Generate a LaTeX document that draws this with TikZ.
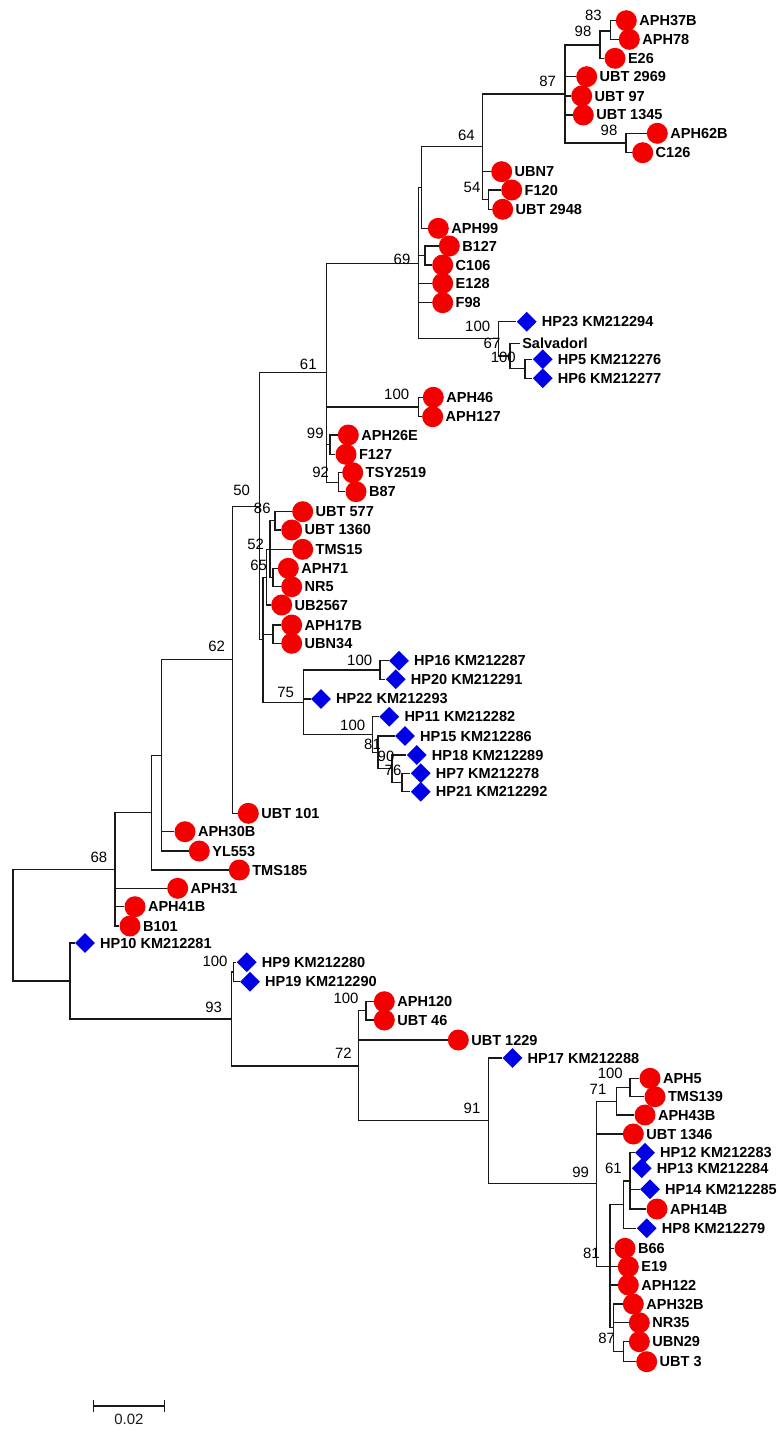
\documentclass[tikz,border=0pt]{standalone}
\usepackage{fontspec}
\setmainfont{Liberation Sans}
\usetikzlibrary{arrows.meta, shapes.geometric}
\definecolor{isored}{RGB}{245,0,0}
\definecolor{refblue}{RGB}{0,0,230}

\begin{document}
\begin{tikzpicture}[x=0.75pt, y=-0.75pt,
    dot/.style={circle, fill=isored, inner sep=0pt, minimum size=15.75pt},
    dia/.style={diamond, fill=refblue, inner sep=0pt, minimum size=15pt},
    lab/.style={font=\fontsize{10.9}{12}\selectfont\bfseries, inner sep=1.5pt},
    bs/.style={font=\fontsize{11.2}{12}\selectfont, inner sep=0pt},
    branch/.style={line width=0.8pt, black!90}
  ]
  \useasboundingbox (0,0) rectangle (780,1434);

  % isolates
  \foreach \n/\x/\y/\t in {aph37b/626.3/20.7/APH37B, aph78/629.3/39.3/APH78,
      e26/615/58.3/E26, ubt2969/586.7/76.7/UBT 2969, ubt97/581.7/96/UBT 97,
      ubt1345/583.3/115/UBT 1345, aph62b/657.3/133.3/APH62B, c126/642.7/152.7/C126,
      ubn7/501.7/171.7/UBN7, f120/511.7/190/F120, ubt2948/502.7/209.3/UBT 2948,
      aph99/438.3/228.3/APH99, b127/449.3/246/B127, c106/442.7/265/C106,
      e128/442.7/283.3/E128, f98/442.7/302.7/F98, aph46/433.3/397.3/APH46,
      aph127/432.7/416.7/APH127, aph26e/348.3/435/APH26E, f127/346/454.3/F127,
      tsy2519/352.7/472.7/TSY2519, b87/356/491.7/B87, ubt577/302.7/511.7/UBT 577,
      ubt1360/291.7/530/UBT 1360, tms15/302.7/549.3/TMS15, aph71/288.3/568.3/APH71,
      nr5/291.7/586.7/NR5, ub2567/281.7/605/UB2567, aph17b/291.7/625/APH17B,
      ubn34/291.7/643.3/UBN34, ubt101/248.3/813.3/UBT 101, aph30b/185/831.7/APH30B,
      yl553/199.3/851/YL553, tms185/239.3/870/TMS185, aph31/177.7/888.3/APH31,
      aph41b/135/906.7/APH41B, b101/130/926/B101, aph120/384.3/1001.7/APH120,
      ubt46/384.3/1020/UBT 46, ubt1229/458.3/1040/UBT 1229, aph5/650/1078.3/APH5,
      tms139/655/1096.7/TMS139, aph43b/645/1115/APH43B, ubt1346/633.3/1134/UBT 1346,
      aph14b/657/1209/APH14B, b66/625/1248.3/B66, e19/628.3/1266.7/E19,
      aph122/628.3/1285/APH122, aph32b/633.3/1304/APH32B, nr35/639.3/1322.7/NR35,
      ubn29/639.3/1341.7/UBN29, ubt3/646.7/1361.7/UBT 3}
    \node[dot, label={[lab]right:\t}] (\n) at (\x,\y) {};

  % reference sequences
  \foreach \n/\x/\y/\t in {hp23/526.7/321.7/HP23 KM212294, hp5/542.7/359.3/HP5 KM212276,
      hp6/542.7/378.3/HP6 KM212277, hp16/399/660.7/HP16 KM212287,
      hp20/395.7/679.3/HP20 KM212291, hp22/321/699/HP22 KM212293,
      hp11/389.3/716.7/HP11 KM212282, hp15/405/736/HP15 KM212286,
      hp18/416.7/755/HP18 KM212289, hp7/420.7/773.3/HP7 KM212278,
      hp21/420.7/791.7/HP21 KM212292, hp10/85/943/HP10 KM212281,
      hp9/246.7/962.3/HP9 KM212280, hp19/250/981.7/HP19 KM212290,
      hp17/512.5/1058/HP17 KM212288, hp12/645/1152.7/HP12 KM212283,
      hp13/641.7/1168.3/HP13 KM212284, hp14/650/1189.3/HP14 KM212285,
      hp8/646.7/1228.3/HP8 KM212279}
    \node[dia, label={[lab, label distance=2pt]right:\t}] (\n) at (\x,\y) {};

  \node[lab, anchor=west] (salv) at (520,343.3) {Salvadorl};

  % internal nodes
  \foreach \n/\x/\y in {n83/610.7/31, n98a/600/45, n98b/626/143, n87/565/94,
      n54/488.3/199.6, n64/482.7/146.8, nB/421.7/187.5, nBC/425/255.5,
      n67/510/356, n100a/498.3/338.9, n100b/525/368.8, n69/418.3/263.2,
      n100c/418.3/407, n99a/330/444.7, n92/338.3/482.2, n61/326.7/372.7,
      n86/275/520.9, nAN/273/577.5, n52/270/549.2, n65/266.5/577.1,
      nAU/273/634.2, n100d/380/670, n76/402/782.5, n90/392/768.8,
      n81a/378/752.4, n100e/372.7/734.5, n75/303.3/702.3, nX/263/639.7,
      n50/259.3/506.2, n62/232.3/659.8, n161/161.7/755.4, n151/151.7/812.7,
      n68/115/869.4, n100f/233.5/972, n100g/366/1010.9, n100h/630/1087.5,
      n71/616.7/1101.3, nA61/630/1181, nH8/623.3/1204.6, nU/623.3/1351.7,
      n87b/613.3/1327.8, n81b/610/1266.2, n99b/596.7/1183.7, n91/488.3/1120.9,
      n72/358.3/1066, n93/231.7/1019, nR2/70/981, root/13/925.2}
    \coordinate (\n) at (\x,\y);

  % branches
  \foreach \p/\c in {n83/aph37b, n83/aph78, n98a/n83, n98a/e26, n87/n98a,
      n87/ubt2969, n87/ubt97, n87/ubt1345, n87/n98b, n98b/aph62b, n98b/c126,
      n64/n87, n64/ubn7, n64/n54, n54/f120, n54/ubt2948, nB/n64, nB/aph99,
      nBC/b127, nBC/c106, n69/nB, n69/nBC, n69/e128, n69/f98, n69/n100a,
      n100a/hp23, n100a/n67, n67/salv, n67/n100b, n100b/hp5, n100b/hp6,
      n61/n69, n61/n100c, n61/n99a, n61/n92, n100c/aph46, n100c/aph127,
      n99a/aph26e, n99a/f127, n92/tsy2519, n92/b87, n50/n61, n50/nX,
      nX/n65, nX/nAU, nX/n75, n65/n52, n65/ub2567, n52/n86, n52/tms15, n52/nAN,
      n86/ubt577, n86/ubt1360, nAN/aph71, nAN/nr5, nAU/aph17b, nAU/ubn34,
      n75/n100d, n75/hp22, n75/n100e, n100d/hp16, n100d/hp20, n100e/hp11,
      n100e/n81a, n81a/hp15, n81a/n90, n90/hp18, n90/n76, n76/hp7, n76/hp21,
      n62/n50, n62/ubt101, n161/n62, n161/aph30b, n161/yl553, n151/n161,
      n151/tms185, n68/n151, n68/aph31, n68/aph41b, n68/b101, root/n68,
      root/nR2, nR2/hp10, nR2/n93, n93/n100f, n93/n72, n100f/hp9, n100f/hp19,
      n72/n100g, n72/ubt1229, n72/n91, n100g/aph120, n100g/ubt46, n91/hp17,
      n91/n99b, n99b/n71, n99b/ubt1346, n99b/n81b, n71/n100h, n71/aph43b,
      n100h/aph5, n100h/tms139, n81b/nH8, n81b/b66, n81b/e19, n81b/aph122,
      n81b/n87b, nH8/nA61, nH8/hp8, nA61/hp12, nA61/hp13, nA61/hp14,
      nA61/aph14b, n87b/aph32b, n87b/nr35, n87b/nU, nU/ubn29, nU/ubt3}
    \draw[branch] (\p) |- (\c);

  % bootstrap values
  \foreach \x/\y/\v [count=\i] in {593.3/15.7/83, 583/31.7/98, 547.7/81/87,
      609/130.7/98, 466.3/135.7/64, 472/187.3/54, 402/259/69, 477.7/326.7/100,
      492/343.3/67, 503.3/357.7/100, 308.3/364/61, 396.7/394.3/100,
      315.3/433/99, 320.7/472/92, 241.7/490.3/50, 262.3/508.3/86,
      255.7/544.3/52, 258.7/565.7/65, 216.7/646.3/62, 285.7/692.3/75,
      359.7/660/100, 352.7/725.3/100, 372.5/744/81, 386/756/90, 393/770.5/76,
      99/857/68, 215/961.7/100, 213.7/1007.7/93, 346/998.3/100, 343.3/1053/72,
      472/1108.3/91, 610.3/1073.3/100, 598/1089.3/71, 580.7/1172.7/99,
      613.3/1168.7/61, 591.3/1253/81, 606.7/1338.7/87}
    \node[bs] (bs\i) at (\x,\y) {\v};

  % scale bar
  \coordinate (sbl) at (92.7,1406);
  \coordinate (sbr) at (165,1406);
  \draw[branch, {Bar[width=9pt]}-{Bar[width=9pt]}] (sbl) -- node[bs, below=6pt] (sbt) {0.02} (sbr);
\end{tikzpicture}
\end{document}
